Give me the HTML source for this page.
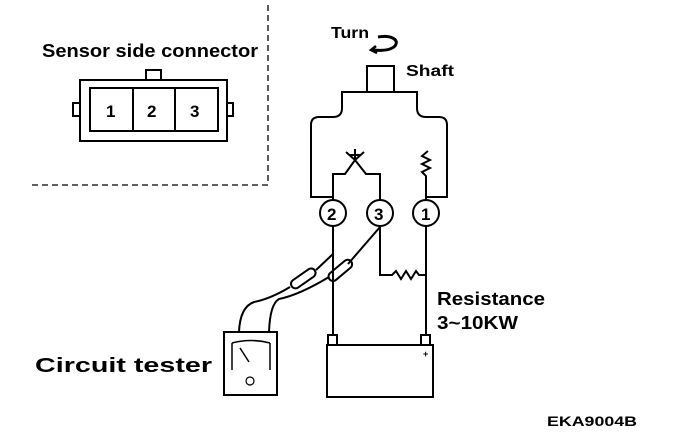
<!DOCTYPE html>
<html><head><style>body{margin:0;background:#fff}svg{display:block}text{font-family:"Liberation Sans",Arial,sans-serif;fill:#000;font-weight:bold}</style></head><body>
<svg width="688" height="440" viewBox="0 0 688 440" xmlns="http://www.w3.org/2000/svg" fill="none" stroke="#000" stroke-width="2">
<path d="M268 5V185H30" stroke-dasharray="6 4" stroke-width="1.3"/>
<text x="42" y="57" font-size="18" stroke="none" textLength="216" lengthAdjust="spacingAndGlyphs">Sensor side connector</text>
<rect x="80" y="80" width="147" height="61"/>
<rect x="90" y="88" width="128" height="43"/>
<path d="M133 88V131M175 88V131"/>
<rect x="146" y="70" width="15" height="10"/>
<rect x="73" y="103" width="7" height="13"/>
<rect x="227" y="103" width="6" height="13"/>
<text x="106" y="117" font-size="17" stroke="none">1</text>
<text x="147" y="117" font-size="17" stroke="none">2</text>
<text x="190" y="117" font-size="17" stroke="none">3</text>
<text x="331" y="38" font-size="16" stroke="none" textLength="38" lengthAdjust="spacingAndGlyphs">Turn</text>
<path d="M378 37c12-2 22 2 17 9c-4 4-12 5-22 4" stroke-width="3"/>
<path d="M376 46l-5 4l6 3" stroke-width="2.5"/>
<text x="406" y="76" font-size="16" stroke="none" textLength="48" lengthAdjust="spacingAndGlyphs">Shaft</text>
<path d="M367 92V66H394V92"/>
<path d="M333 201V197H311V125q0-8 8-8h14q9 0 9-9V92H417V108q0 9 9 9h13q8 0 8 8V197H426"/>
<path d="M333 200V174H345L355 160L366 174H380V200M355 160L346 152M355 160L364 152M355 149V160M349 155H361"/>
<path d="M426 200V176L422 172L430 168L422 164L430 160L422 156L428 151" />
<circle cx="333" cy="213" r="13"/><circle cx="380" cy="213" r="13"/><circle cx="426" cy="213" r="13"/>
<text x="327" y="220" font-size="17" stroke="none">2</text>
<text x="374" y="220" font-size="17" stroke="none">3</text>
<text x="421" y="220" font-size="17" stroke="none">1</text>
<path d="M333 226V335M426 226V335M380 226V275H392l4 -4l5 8l5 -8l5 8l5 -8l3 4H426"/>
<path d="M380 227L348 264"/>
<path d="M316 270L333 254"/>
<rect x="289" y="274" width="28" height="9" rx="4.5" transform="rotate(-35 303 278)"/>
<rect x="326" y="266" width="28" height="9" rx="4.5" transform="rotate(-40 340 270)"/>
<path d="M290 287q-20 12-36 15q-14 5-15 30"/>
<path d="M329 277q-30 18-50 22q-9 5-10 33"/>
<rect x="328" y="335" width="9" height="10"/><rect x="421" y="335" width="9" height="10"/>
<rect x="327" y="345" width="106" height="52"/>
<text x="423" y="357" font-size="9" stroke="none">+</text>
<rect x="224" y="332" width="53" height="63"/>
<path d="M232 343V370M270 343V370M232 343q19-5 38 0M240 348l9 14" stroke-width="1.5"/>
<circle cx="250" cy="381" r="4" stroke-width="1.2"/>
<text x="35" y="372" font-size="20" stroke="none" textLength="177" lengthAdjust="spacingAndGlyphs">Circuit tester</text>
<text x="437" y="305" font-size="18" stroke="none" textLength="108" lengthAdjust="spacingAndGlyphs">Resistance</text>
<text x="437" y="329" font-size="18" stroke="none" textLength="81" lengthAdjust="spacingAndGlyphs">3~10KW</text>
<text x="547" y="426" font-size="14" stroke="none" textLength="90" lengthAdjust="spacingAndGlyphs">EKA9004B</text>
</svg></body></html>
